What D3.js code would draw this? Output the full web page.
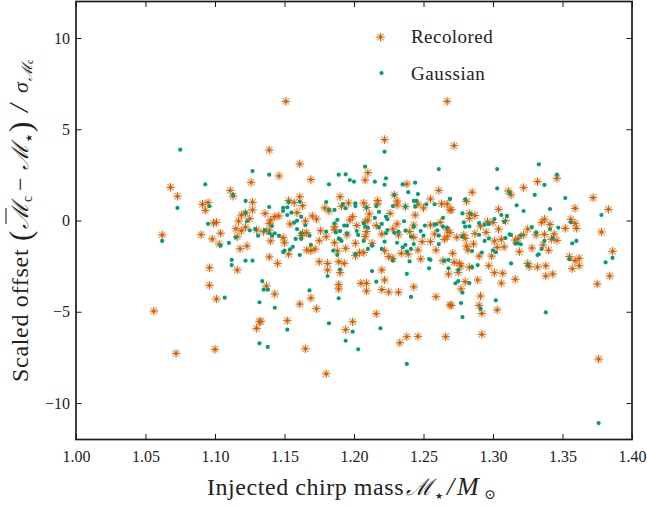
<!DOCTYPE html>
<html><head><meta charset="utf-8">
<script src="https://cdnjs.cloudflare.com/ajax/libs/d3/7.9.0/d3.min.js"></script>
<style>
html,body{margin:0;padding:0;background:#fff}
svg{display:block}
text{font-family:"Liberation Serif","DejaVu Serif",serif;fill:#222}
</style></head><body><svg id="c" width="647" height="506"></svg>
<script>
const xTicks=[1.00,1.05,1.10,1.15,1.20,1.25,1.30,1.35,1.40];
const yTicks=[-10,-5,0,5,10];
const seriesNames=["Recolored","Gaussian"];
const recolored=[[1.068,1.82],[1.073,1.33],[1.091,.89],[1.095,.98],[1.093,.56],[1.111,1.65],[1.113,1.33],[1.126,2.09],[1.127,1.00],[1.127,.58],[1.122,.41],[1.119,.30],[1.125,.10],[1.117,-.03],[1.099,-.14],[1.101,-.10],[1.115,-.45],[1.122,-.36],[1.119,-.56],[1.130,-.52],[1.062,-.79],[1.090,-.78],[1.104,-.70],[1.098,-1.01],[1.116,-.89],[1.103,-1.29],[1.118,-1.55],[1.123,-1.40],[1.096,-2.59],[1.116,-2.71],[1.096,-3.55],[1.101,-4.30],[1.056,-4.96],[1.072,-7.28],[1.100,-7.06],[1.130,-5.91],[1.132,-5.55],
[1.151,6.53],[1.267,6.53],[1.222,4.43],[1.139,3.86],[1.161,3.10],[1.210,2.62],[1.146,2.44],[1.169,2.24],[1.208,2.22],[1.238,2.00],[1.261,1.65],[1.190,1.30],[1.161,1.30],[1.229,1.40],[1.153,1.09],[1.157,.98],[1.163,.81],[1.196,.96],[1.207,.96],[1.217,1.09],[1.217,.90],[1.231,1.07],[1.231,.85],[1.255,1.18],[1.263,.92],[1.267,.90],[1.269,.58],[1.246,.90],[1.250,.69],[1.237,.76],[1.179,.69],[1.182,.52],[1.191,.78],[1.209,.72],[1.136,.39],[1.143,.21],[1.146,.25],[1.159,.43],[1.170,.25],[1.173,.08],[1.140,.03],[1.139,-.15],[1.211,.36],[1.199,.21],[1.197,.03],[1.226,.39],[1.210,.03],[1.244,.30],[1.262,-.10],[1.154,-.19],[1.165,-.03],[1.186,-.34],[1.202,-.28],[1.208,-.07],[1.216,-.28],[1.231,-.19],[1.243,-.25],[1.255,-.25],[1.267,-.52],[1.135,-.61],[1.139,-.52],[1.149,-.94],[1.163,-.70],[1.166,-.67],[1.162,-.83],[1.176,-.56],[1.180,-.89],[1.186,-.52],[1.195,-.79],[1.209,-.61],[1.208,-.89],[1.220,-.74],[1.228,-.47],[1.232,-.79],[1.240,-.61],[1.243,-.92],[1.258,-.74],[1.267,-.89],
[1.140,-1.12],[1.150,-1.22],[1.166,-1.62],[1.169,-1.65],[1.172,-1.56],[1.175,-1.11],[1.186,-1.22],[1.194,-1.52],[1.201,-1.25],[1.188,-1.67],[1.201,-1.93],[1.204,-1.76],[1.207,-1.76],[1.213,-1.25],[1.222,-1.65],[1.225,-1.98],[1.228,-2.07],[1.234,-1.80],[1.239,-1.84],[1.246,-1.62],[1.248,-2.11],[1.259,-1.62],[1.255,-1.16],[1.264,-2.20],[1.265,-1.03],[1.249,-1.16],[1.139,-2.00],[1.145,-2.35],[1.153,-1.84],[1.175,-2.26],[1.181,-2.35],[1.181,-2.71],[1.189,-2.26],[1.193,-2.35],[1.190,-2.86],[1.220,-2.71],[1.222,-3.26],[1.205,-3.44],[1.209,-3.44],[1.209,-3.86],[1.189,-3.50],[1.189,-3.75],[1.268,-2.93],[1.220,-3.79],[1.225,-3.92],[1.232,-3.93],[1.243,-3.64],[1.259,-4.18],[1.269,-4.63],[1.137,-3.59],[1.143,-4.03],[1.161,-4.58],[1.169,-4.25],[1.173,-4.83],[1.133,-5.52],[1.152,-5.49],[1.199,-5.55],[1.194,-5.98],[1.216,-5.11],[1.238,-6.37],[1.246,-6.35],[1.233,-6.70],[1.266,-6.37],[1.165,-7.03],[1.180,-8.40],
[1.272,4.10],[1.346,2.31],[1.332,2.13],[1.322,1.80],[1.311,1.62],[1.313,1.40],[1.285,1.55],[1.372,1.25],[1.281,1.05],[1.270,.59],[1.359,.67],[1.383,.61],[1.304,.61],[1.283,.39],[1.287,.28],[1.283,.12],[1.356,.07],[1.337,.07],[1.335,-.10],[1.341,-.21],[1.359,-.15],[1.296,-.07],[1.300,-.10],[1.291,-.30],[1.309,-.01],[1.269,-.65],[1.304,-.47],[1.352,-.43],[1.360,-.43],[1.378,-.63],[1.325,-.47],[1.322,-.79],[1.331,-.79],[1.337,-.76],[1.295,-.65],[1.287,-.72],[1.279,-.79],[1.274,-.92],[1.280,-.98],[1.301,-1.12],[1.306,-1.03],[1.316,-1.07],[1.318,-.98],[1.344,-.74],[1.342,-1.03],[1.346,-1.09],[1.281,-1.40],[1.286,-1.29],[1.282,-1.62],[1.303,-1.47],[1.308,-1.45],[1.328,-1.51],[1.319,-1.71],[1.340,-1.63],[1.336,-1.34],[1.271,-1.80],[1.290,-1.95],[1.299,-1.95],[1.272,-2.29],[1.276,-2.35],[1.277,-2.49],[1.283,-2.56],[1.297,-2.48],[1.301,-2.86],[1.307,-2.89],[1.316,-3.22],[1.325,-2.35],[1.326,-2.53],[1.332,-2.55],[1.338,-2.48],[1.338,-3.04],[1.343,-2.93],[1.355,-1.98],[1.362,-2.07],[1.359,-2.20],[1.362,-2.48],[1.357,-2.64],[1.386,-1.69],[1.384,-3.04],[1.375,-3.48],[1.275,-2.84],[1.289,-3.26],[1.306,-3.43],[1.280,-3.35],[1.277,-3.75],[1.291,-4.14],[1.270,-4.65],[1.290,-4.65],[1.292,-5.09],[1.303,-4.90],[1.292,-6.24],[1.376,-7.59]];
const gaussian=[[1.075,3.88],[1.127,2.71],[1.093,1.98],[1.113,1.40],[1.073,.69],[1.096,.78],[1.122,1.07],[1.122,.43],[1.095,-.18],[1.123,-.04],[1.125,-.54],[1.129,-.47],[1.131,-.83],[1.115,-.92],[1.062,-1.12],[1.104,-1.38],[1.110,-1.23],[1.112,-2.16],[1.112,-2.44],[1.122,-2.20],[1.127,-2.20],[1.107,-4.23],[1.132,-4.48],[1.132,-6.73],[1.134,-3.32],
[1.139,2.51],[1.182,1.98],[1.189,2.51],[1.194,2.53],[1.197,2.22],[1.200,2.13],[1.208,2.95],[1.222,3.77],[1.215,2.13],[1.223,2.31],[1.222,1.96],[1.235,1.98],[1.244,2.07],[1.261,2.82],[1.239,1.55],[1.246,1.45],[1.229,1.40],[1.180,1.01],[1.139,.74],[1.149,.70],[1.149,.52],[1.152,.72],[1.153,1.01],[1.161,1.03],[1.155,.43],[1.152,.30],[1.162,.21],[1.159,-.01],[1.157,-.12],[1.165,-.26],[1.159,-.47],[1.182,.59],[1.186,.58],[1.192,.90],[1.194,.67],[1.201,.94],[1.201,.79],[1.209,.70],[1.216,.79],[1.218,.47],[1.228,.79],[1.237,.76],[1.243,1.07],[1.245,1.07],[1.244,.76],[1.252,.89],[1.258,.89],[1.269,1.19],[1.188,.03],[1.186,-.15],[1.193,-.28],[1.195,-.28],[1.207,-.15],[1.208,-.34],[1.210,-.39],[1.215,.14],[1.220,-.19],[1.223,.21],[1.224,.07],[1.218,-.39],[1.236,-.04],[1.237,-.56],[1.243,-.34],[1.251,-.28],[1.248,-.58],[1.258,-.23],[1.259,-.21],[1.264,.15],[1.264,-.34],[1.267,-.39],[1.260,-.54],[1.261,-.83],[1.250,-.83],[1.241,-.89],[1.232,-.61],[1.229,-.67],[1.224,-.52],[1.223,-.70],[1.202,-.58],[1.203,-.79],[1.195,-.70],[1.190,-.58],[1.187,-.65],[1.180,-.61],[1.189,-.98],[1.168,-.83],[1.162,-.70],[1.162,-1.01],[1.158,-1.01],[1.146,-.83],[1.143,-.70],[1.141,-.83],[1.139,-.70],[1.136,-.52],[1.141,-.30],
[1.156,-1.44],[1.154,-1.58],[1.150,-1.65],[1.149,-1.73],[1.161,-1.89],[1.169,-1.34],[1.185,-1.65],[1.188,-1.89],[1.190,-1.03],[1.191,-1.12],[1.207,-1.12],[1.213,-1.38],[1.210,-1.56],[1.222,-1.16],[1.220,-1.56],[1.231,-1.22],[1.235,-1.47],[1.237,-1.34],[1.243,-1.29],[1.241,-1.56],[1.238,-1.71],[1.261,-1.29],[1.201,-1.84],[1.228,-2.20],[1.240,-2.24],[1.254,-2.11],[1.255,-2.16],[1.254,-2.62],[1.265,-2.20],[1.268,-2.16],[1.268,-2.62],[1.190,-2.67],[1.181,-3.04],[1.213,-2.77],[1.238,-2.92],[1.216,-3.35],[1.135,-3.79],[1.138,-3.79],[1.168,-3.83],[1.143,-4.78],[1.189,-4.26],[1.241,-4.19],[1.182,-5.63],[1.219,-5.91],[1.152,-5.98],[1.199,-6.09],[1.194,-6.59],[1.138,-6.93],[1.203,-7.06],[1.238,-7.86],
[1.333,3.08],[1.303,2.82],[1.346,2.51],[1.337,1.95],[1.303,1.76],[1.312,1.51],[1.330,1.40],[1.352,1.23],[1.269,1.18],[1.280,1.16],[1.317,.83],[1.322,.52],[1.341,.63],[1.378,.30],[1.278,.39],[1.284,.36],[1.306,.30],[1.310,.25],[1.279,-.10],[1.290,-.14],[1.294,-.23],[1.297,-.19],[1.301,.08],[1.308,-.07],[1.280,-.34],[1.283,-.32],[1.328,-.36],[1.356,-.10],[1.341,-.47],[1.347,-.39],[1.331,-.65],[1.290,-.78],[1.278,-.87],[1.312,-.76],[1.313,-.79],[1.320,-.81],[1.309,-.96],[1.297,-.98],[1.294,-1.12],[1.337,-1.12],[1.343,-.96],[1.360,-1.12],[1.357,-1.25],[1.316,-1.27],[1.318,-1.25],[1.320,-1.30],[1.335,-1.56],[1.300,-1.63],[1.292,-1.76],[1.285,-1.67],[1.302,-1.74],[1.332,-1.89],[1.333,-1.85],[1.386,-2.05],[1.355,-2.13],[1.313,-2.35],[1.325,-2.44],[1.381,-2.29],[1.289,-2.44],[1.285,-2.56],[1.275,-2.70],[1.273,-3.44],[1.275,-3.32],[1.283,-3.43],[1.278,-3.96],[1.277,-4.52],[1.302,-4.37],[1.291,-4.83],[1.278,-5.29],[1.338,-5.03],[1.376,-11.10]];

const L=76,R=632,T=1.5,B=439.5;
const orange="#d55e00",green="#009e73",ink="#1a1a1a";
const x=d3.scaleLinear().domain([1,1.4]).range([L,R]);
const y=d3.scaleLinear().domain([-12,12]).range([B,T]);
const svg=d3.select("#c");

function star(g){
  g.append("path").attr("d","M-3.2,-3.2L3.2,3.2M-3.2,3.2L3.2,-3.2").attr("stroke",orange).attr("stroke-opacity",.55).attr("stroke-width",1.4).attr("fill","none");
  g.append("path").attr("d","M-4.3,0H4.3M0,-4.3V4.3").attr("stroke",orange).attr("stroke-width",1).attr("fill","none");
  g.append("circle").attr("r",1.5).attr("fill",orange);
}
svg.append("g").selectAll("g").data(recolored).join("g")
  .attr("transform",d=>`translate(${x(d[0])},${y(d[1])})`).call(star);
svg.append("g").selectAll("circle").data(gaussian).join("circle")
  .attr("cx",d=>x(d[0])).attr("cy",d=>y(d[1])).attr("r",2.1).attr("fill",green);

// legend
star(svg.append("g").attr("transform","translate(380.5,37)"));
svg.append("circle").attr("cx",381.5).attr("cy",73).attr("r",2.1).attr("fill",green);
svg.append("text").attr("x",411).attr("y",43).attr("font-size",19).attr("letter-spacing",.45).text(seriesNames[0]);
svg.append("text").attr("x",411).attr("y",80).attr("font-size",19).attr("letter-spacing",.6).text(seriesNames[1]);

// axes
const fmtY=d=>d<0?"\u2212"+Math.abs(d):String(d);
const axB=d3.axisBottom(x).tickValues(xTicks).tickFormat(d3.format(".2f")).tickSize(-5.5).tickPadding(11);
const axL=d3.axisLeft(y).tickValues(yTicks).tickFormat(fmtY).tickSize(-5.5).tickPadding(6);
const axT=d3.axisTop(x).tickValues(xTicks).tickFormat("").tickSize(-5.5);
const axR=d3.axisRight(y).tickValues(yTicks).tickFormat("").tickSize(-5.5);
svg.append("g").attr("transform",`translate(0,${B})`).call(axB);
svg.append("g").attr("transform",`translate(${L},0)`).call(axL);
svg.append("g").attr("transform",`translate(0,${T})`).call(axT);
svg.append("g").attr("transform",`translate(${R},0)`).call(axR);
svg.selectAll(".domain").remove();
svg.selectAll(".tick line").attr("stroke",ink).attr("stroke-width",1);
svg.selectAll(".tick text").attr("font-size",16).attr("font-family",'"Liberation Serif"').attr("fill","#222");
svg.append("rect").attr("x",L).attr("y",T).attr("width",R-L).attr("height",B-T).attr("fill","none").attr("stroke",ink).attr("stroke-width",1.7);

const mFamily="DejaVu Serif",mSize=23;
function piece(g,p){
  g.append("text").attr("x",p[1]).attr("y",p[2]||0).attr("font-size",p[3]||24)
    .attr("font-family",p[4]||null).attr("font-style",p[5]||null).attr("letter-spacing",p[6]||null).text(p[0]);
}
const xl=svg.append("g").attr("transform","translate(207,495)");
[["Injected chirp mass",0,0,24,null,null,.55],
 ["\u2133",199,0,mSize,mFamily,"italic"],
 ["\u2605",228,4,9,"DejaVu Sans"],
 ["/",240,0,26,null,"italic"],
 ["M",250,0,26,null,"italic"],
 ["\u2299",277,4,14,"DejaVu Sans"]].forEach(p=>piece(xl,p));

const yl=svg.append("g").attr("transform","translate(28,382) rotate(-90)");
[["Scaled offset",0,0,24,null,null,.7],
 ["(",141,3,31],
 ["\u2133",153,0,mSize,mFamily,"italic"],
 ["c",180,4,14],
 ["\u2212",191,0,24],
 ["\u2133",212,0,mSize,mFamily,"italic"],
 ["\u2605",240,4,9,"DejaVu Sans"],
 [")",250,3,31],
 ["/",270,0,28,null,"italic"],
 ["\u03c3",289,0,22,null,"italic"],
 ["\u2133",301,4,15,mFamily,"italic"],
 ["c",318,5,10]].forEach(p=>piece(yl,p));
yl.append("line").attr("x1",158).attr("x2",174).attr("y1",-22).attr("y2",-22).attr("stroke","#222").attr("stroke-width",1.1);
</script></body></html>
